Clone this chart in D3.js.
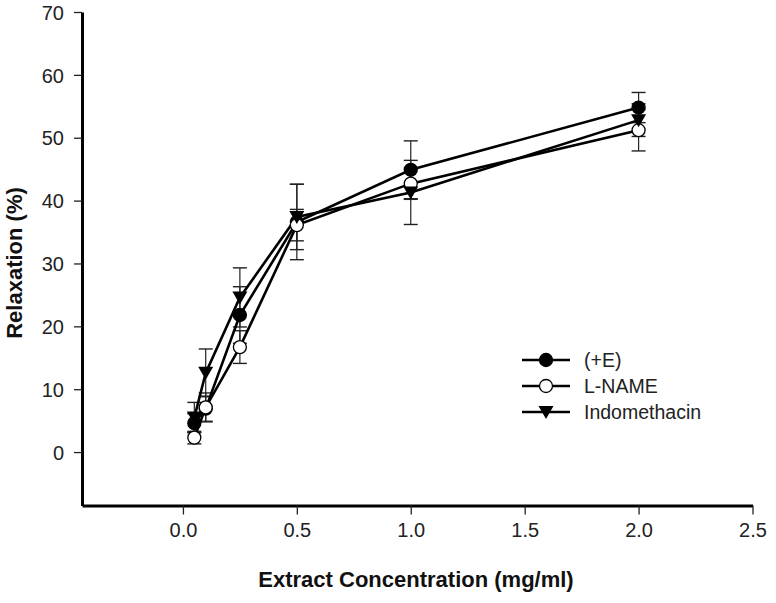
<!DOCTYPE html>
<html><head><meta charset="utf-8">
<script src="https://cdn.jsdelivr.net/npm/d3@7"></script>
<style>body{margin:0;background:#fff}svg{display:block}</style>
</head><body>
<svg id="c" width="776" height="603"></svg>
<script>
const conc = [0.05, 0.1, 0.25, 0.5, 1.0, 2.0];
const seriesNames = ["(+E)", "L-NAME", "Indomethacin"];
const plusE = [4.6, 6.9, 21.8, 36.6, 44.9, 54.8];
const plusEErr = [1.5, 2.0, 4.5, 6.0, 4.6, 2.4];
const lName = [2.3, 7.1, 16.7, 36.1, 42.7, 51.2];
const lNameErr = [1.0, 2.3, 2.6, 2.5, 2.5, 3.3];
const indo = [5.5, 12.6, 24.6, 37.4, 41.3, 52.8];
const indoErr = [2.4, 3.8, 4.7, 5.2, 5.1, 2.6];
const xTicks = [0.0, 0.5, 1.0, 1.5, 2.0, 2.5];
const yTicks = [0, 10, 20, 30, 40, 50, 60, 70];

const svg = d3.select("#c");
const x = d3.scaleLinear().domain([-0.443, 2.5]).range([82, 752.5]);
const y = d3.scaleLinear().domain([-8.5, 70]).range([505.5, 12]);

const series = [
  {name: seriesNames[0], vals: plusE, err: plusEErr, type: "filled"},
  {name: seriesNames[1], vals: lName, err: lNameErr, type: "open"},
  {name: seriesNames[2], vals: indo, err: indoErr, type: "tri"}
];

const FONT = "Liberation Sans, Arial, sans-serif";
// axes
const yAxis = d3.axisLeft(y).tickValues(yTicks).tickSize(8).tickSizeOuter(0).tickPadding(10).tickFormat(d3.format("d"));
const xAxis = d3.axisBottom(x).tickValues(xTicks).tickSize(9).tickSizeOuter(0).tickPadding(7).tickFormat(d3.format(".1f"));
const gy = svg.append("g").attr("transform", "translate(82,0)").call(yAxis);
const gx = svg.append("g").attr("transform", "translate(0,505.5)").call(xAxis);
[gy, gx].forEach(g => {
  g.select(".domain").attr("stroke", "#000").attr("stroke-width", 3);
  g.selectAll(".tick line").attr("stroke", "#222").attr("stroke-width", 1.3);
  g.selectAll(".tick text").attr("fill", "#222").style("font-family", FONT).style("font-size", "20px");
});
gy.selectAll(".tick text").attr("dy", "0.36em");
gx.selectAll(".tick text").attr("dy", "0.75em");

// titles
svg.append("text").attr("transform", "translate(22,263) rotate(-90)")
  .attr("text-anchor", "middle").style("font-family", FONT)
  .style("font-weight", "bold").style("font-size", "22px").attr("fill", "#111").text("Relaxation (%)");
svg.append("text").attr("x", 416).attr("y", 587)
  .attr("text-anchor", "middle").style("font-family", FONT)
  .style("font-weight", "bold").style("font-size", "22px").attr("fill", "#111").text("Extract Concentration (mg/ml)");

// error bars
const eb = svg.append("g");
series.forEach(s => {
  conc.forEach((c, i) => {
    const cx = x(c), y1 = y(s.vals[i] + s.err[i]), y0 = y(s.vals[i] - s.err[i]);
    eb.append("line").attr("x1", cx).attr("x2", cx).attr("y1", y1).attr("y2", y0).attr("stroke", "#222").attr("stroke-width", 1.2);
    [y1, y0].forEach(yy => eb.append("line").attr("x1", cx - 7).attr("x2", cx + 7).attr("y1", yy).attr("y2", yy).attr("stroke", "#222").attr("stroke-width", 1.4));
  });
});

// lines
const line = d3.line().x((d, i) => x(conc[i])).y(d => y(d));
series.forEach(s => {
  svg.append("path").attr("d", line(s.vals)).attr("fill", "none").attr("stroke", "#000").attr("stroke-width", 2.6);
});

function marker(g, type, cx, cy) {
  if (type === "tri") {
    g.append("path").attr("d", `M${cx - 7.5},${cy - 6} L${cx + 7.5},${cy - 6} L${cx},${cy + 7} Z`).attr("fill", "#000");
  } else {
    g.append("circle").attr("cx", cx).attr("cy", cy).attr("r", 6.5)
      .attr("fill", type === "filled" ? "#000" : "#fff").attr("stroke", "#000").attr("stroke-width", 1.3);
  }
}
const mg = svg.append("g");
series.forEach(s => conc.forEach((c, i) => marker(mg, s.type, x(c), y(s.vals[i]))));

// legend
const legend = [
  {name: seriesNames[0], type: "filled", yy: 360},
  {name: seriesNames[1], type: "open", yy: 386},
  {name: seriesNames[2], type: "tri", yy: 412}
];
const lg = svg.append("g");
legend.forEach(l => {
  lg.append("line").attr("x1", 522).attr("x2", 570).attr("y1", l.yy).attr("y2", l.yy).attr("stroke", "#000").attr("stroke-width", 2.6);
  marker(lg, l.type, 546, l.yy);
  lg.append("text").attr("x", 584).attr("y", l.yy).attr("dy", "0.36em")
    .style("font-family", FONT).style("font-size", "19.5px").attr("fill", "#222").text(l.name);
});
</script>
</body></html>
